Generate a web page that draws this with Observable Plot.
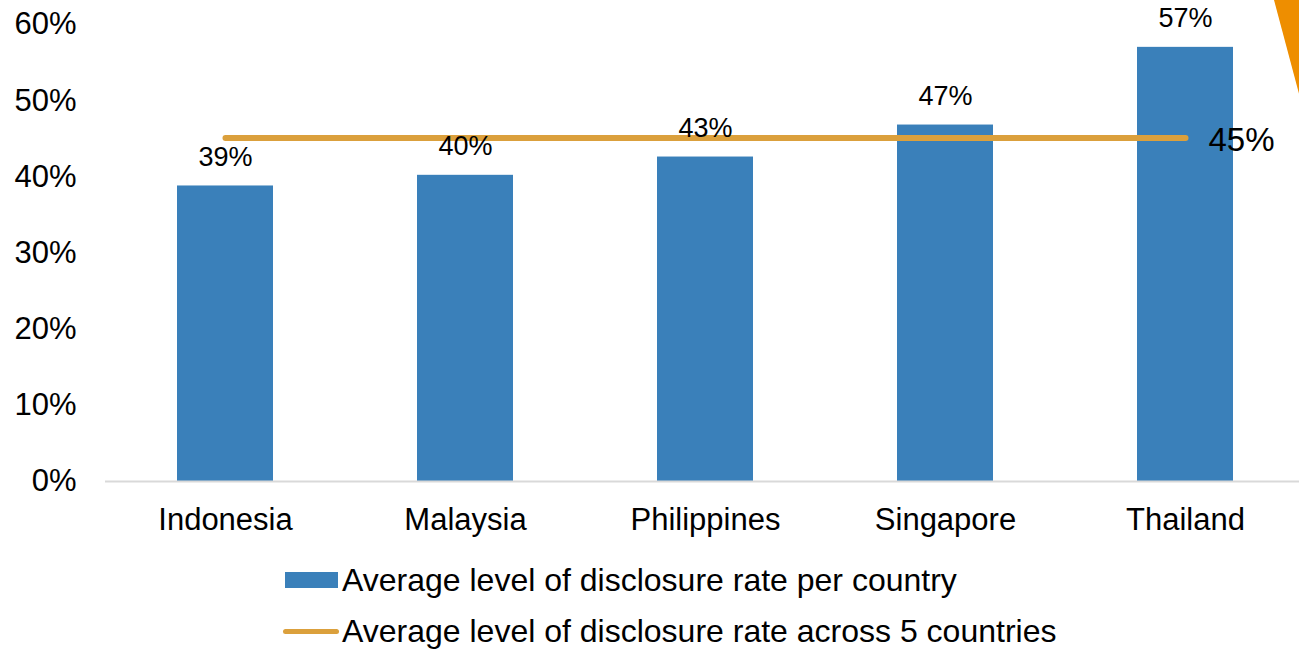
<!DOCTYPE html>
<html><head><meta charset="utf-8">
<script src="https://cdn.jsdelivr.net/npm/d3@7"></script>
<script src="https://cdn.jsdelivr.net/npm/@observablehq/plot@0.6"></script>
<style>
body{margin:0;background:#fff;font-family:"Liberation Sans",Arial,sans-serif;}
#wrap{position:relative;width:1299px;height:649px;overflow:hidden;background:#fff;}
#chart svg{display:block;}
#tri{position:absolute;left:1274px;top:0;width:32px;height:120px;background:#EE8E00;clip-path:polygon(0 0,100% 0,100% 100%);}
.leg{position:absolute;left:283px;display:flex;align-items:center;height:36px;line-height:36px;font-size:32px;color:#000;white-space:nowrap;}
.sw-bar{width:53px;height:16px;background:#3A80BA;margin-left:2px;margin-right:4px;}
.sw-line{width:56px;height:5px;background:#DBA03C;border-radius:3px;margin-right:3px;}
</style></head>
<body>
<div id="wrap">
  <div id="chart"></div>
  <div id="tri"></div>
  <div class="leg" id="leg1" style="top:562px"><div class="sw-bar"></div><span id="l1"></span></div>
  <div class="leg" id="leg2" style="top:613px"><div class="sw-line"></div><span id="l2"></span></div>
</div>
<script>
const countries = ["Indonesia", "Malaysia", "Philippines", "Singapore", "Thailand"];
const rates = [0.388, 0.402, 0.426, 0.468, 0.570];
const averageRate = 0.451;
const yTicks = [0, 0.1, 0.2, 0.3, 0.4, 0.5, 0.6];
const seriesNames = ["Average level of disclosure rate per country", "Average level of disclosure rate across 5 countries"];

const bars = countries.map((c, i) => ({country: c, value: rates[i]}));
const avgLine = countries.map(c => ({country: c, value: averageRate}));
const pct = v => Math.round(v * 100) + "%";
const font = '"Liberation Sans", Arial, sans-serif';

const chart = Plot.plot({
  width: 1299,
  height: 550,
  marginLeft: 105,
  marginRight: 0,
  marginTop: 24,
  marginBottom: 69,
  style: {fontFamily: font, background: "#fff", color: "#000", overflow: "visible"},
  x: {domain: countries, range: [105, 1305], paddingInner: 0.6, paddingOuter: 0.3},
  y: {domain: [0, 0.6]},
  marks: [
    Plot.barY(bars, {x: "country", y: "value", fill: "#3A80BA"}),
    Plot.ruleY([0], {stroke: "#d9d9d9", strokeWidth: 2}),
    Plot.line(avgLine, {x: "country", y: "value", stroke: "#DBA03C", strokeWidth: 6, strokeLinecap: "round"}),
    Plot.text(bars, {x: "country", y: "value", text: d => pct(d.value), dy: -29, fontSize: 27, fill: "#000"}),
    Plot.text([avgLine[avgLine.length - 1]], {x: "country", y: "value", text: d => pct(d.value), textAnchor: "start", dx: 23, dy: 2, fontSize: 33, fill: "#000"}),
    Plot.axisY({ticks: yTicks, tickFormat: d3.format(".0%"), tickSize: 0, tickPadding: 29, fontSize: 31, label: null}),
    Plot.axisX({tickSize: 0, tickPadding: 26, fontSize: 31, label: null})
  ]
});
document.getElementById("chart").appendChild(chart);
document.getElementById("l1").textContent = seriesNames[0];
document.getElementById("l2").textContent = seriesNames[1];
</script>
</body></html>
